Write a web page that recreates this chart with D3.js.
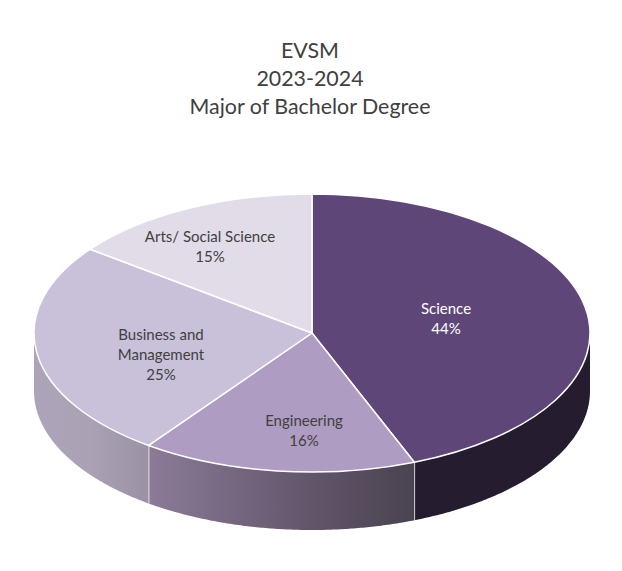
<!DOCTYPE html>
<html>
<head>
<meta charset="utf-8">
<script src="https://cdn.jsdelivr.net/npm/d3@7/dist/d3.min.js"></script>
<style>
html,body{margin:0;padding:0;background:#fff;}
svg{display:block;}
text{font-family:Lato,"Open Sans",sans-serif;text-anchor:middle;}
</style>
</head>
<body>
<script>
const titleLines = ["EVSM", "2023-2024", "Major of Bachelor Degree"];
const categories = ["Science", "Engineering", "Business and Management", "Arts/ Social Science"];
const values = [44, 16, 25.3, 14.7];
const labelLines = [["Science"], ["Engineering"], ["Business and", "Management"], ["Arts/ Social Science"]];
const topColors = ["#5e4778", "#af9cc2", "#c9c0da", "#e2dce9"];
const labelColors = ["#ffffff", "#404040", "#404040", "#404040"];
const wallStops = [
  [["#251c2f", 0], ["#251c2f", 1]],
  [["#4a4350", 0], ["#5f5368", 0.35], ["#8b7b98", 1]],
  [["#9a92a4", 0], ["#aaa1b4", 0.5], ["#ada4ba", 1]],
  [["#b8b0c0", 0], ["#b8b0c0", 1]]
];

const W = 622, H = 571;
const cx = 312, cy = 333, rx = 278, tilt = 0.5, depth = 58;
// label centres, hand placed like the original's data labels
const labelCentres = [[446, 319], [304, 431], [161, 355], [210, 247]];

const svg = d3.select("body").append("svg").attr("width", W).attr("height", H);
const defs = svg.append("defs");

const pie = d3.pie().sort(null).value(d => d)(values);
const arc = d3.arc().innerRadius(0).outerRadius(rx);
const px = a => cx + rx * Math.sin(a);
const py = a => cy - rx * tilt * Math.cos(a);

// Side walls: only the front half (90deg..270deg) of the rim is visible
const walls = svg.append("g");
pie.forEach((s, i) => {
  const a0 = Math.max(s.startAngle, Math.PI / 2);
  const a1 = Math.min(s.endAngle, Math.PI * 1.5);
  if (a1 <= a0) return;
  const angles = d3.range(0, 121).map(k => a0 + (a1 - a0) * k / 120);
  const pts = angles.map(a => [px(a), py(a)])
    .concat(angles.slice().reverse().map(a => [px(a), py(a) + depth]));
  const xs = pts.map(p => p[0]);
  const id = "wall" + i;
  const g = defs.append("linearGradient").attr("id", id)
    .attr("gradientUnits", "userSpaceOnUse")
    .attr("x1", d3.max(xs)).attr("x2", d3.min(xs)).attr("y1", 0).attr("y2", 0);
  wallStops[i].forEach(st => g.append("stop").attr("offset", st[1]).attr("stop-color", st[0]));
  walls.append("path")
    .attr("d", d3.line()(pts) + "Z")
    .attr("fill", `url(#${id})`);
  // white seam at the visible radial edges
  if (s.endAngle > Math.PI / 2 && s.endAngle < Math.PI * 1.5) {
    walls.append("line")
      .attr("x1", px(s.endAngle)).attr("y1", py(s.endAngle))
      .attr("x2", px(s.endAngle)).attr("y2", py(s.endAngle) + depth)
      .attr("stroke", "#fff").attr("stroke-width", 1.5);
  }
});

// Top face
svg.append("g")
  .attr("transform", `translate(${cx},${cy}) scale(1,${tilt})`)
  .selectAll("path").data(pie).join("path")
  .attr("d", arc)
  .attr("fill", (d, i) => topColors[i])
  .attr("stroke", "#fff")
  .attr("stroke-width", 1.5)
  .attr("stroke-linejoin", "round")
  .attr("vector-effect", "non-scaling-stroke");

// Data labels
const lineH = 20;
const labels = svg.append("g");
pie.forEach((s, i) => {
  const lines = labelLines[i].concat([Math.round(values[i]) + "%"]);
  const [lx, ly] = labelCentres[i];
  lines.forEach((t, k) => {
    labels.append("text")
      .attr("x", lx)
      .attr("y", ly + (k - (lines.length - 1) / 2) * lineH)
      .attr("dy", "0.35em")
      .attr("font-size", 15)
      .attr("fill", labelColors[i])
      .text(t);
  });
});

// Title
svg.append("g").selectAll("text").data(titleLines).join("text")
  .attr("x", 310)
  .attr("y", (d, i) => 51 + i * 28)
  .attr("dy", "0.35em")
  .attr("font-size", 21.4)
  .attr("fill", "#404040")
  .text(d => d);
</script>
</body>
</html>
